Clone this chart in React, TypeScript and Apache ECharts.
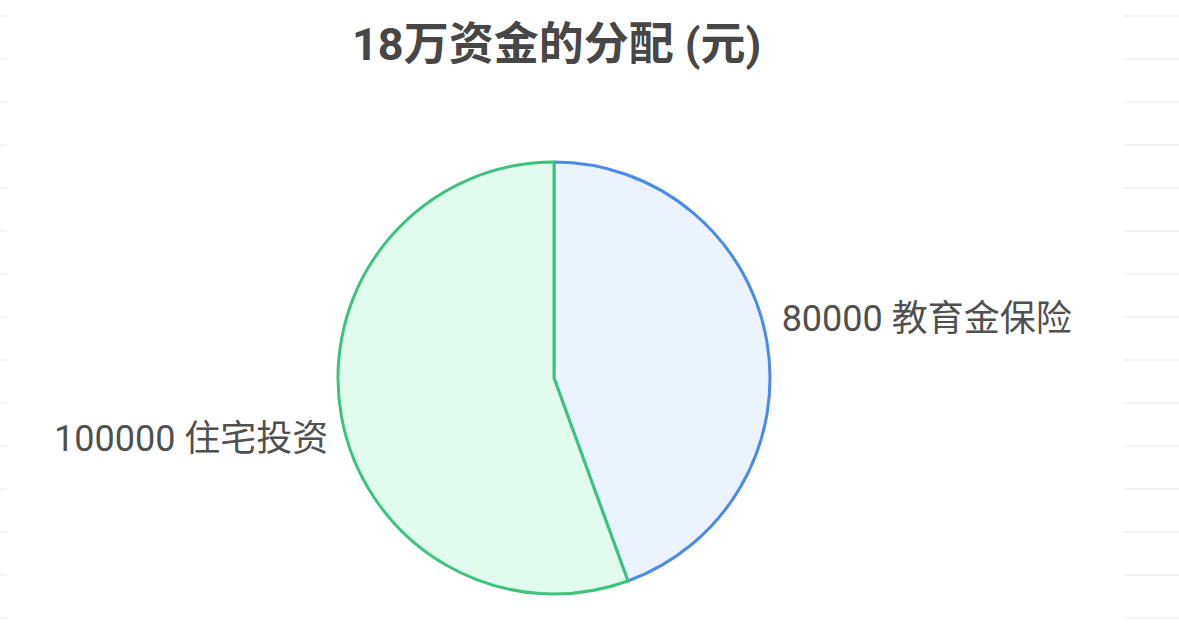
import React, { useEffect, useRef } from "react";
import * as echarts from "echarts";

const titleText = "18万资金的分配 (元)";
const categories = ["教育金保险", "住宅投资"];
const values = [80000, 100000];
const fillColors = ["#ebf3fe", "#e1fcef"];
const borderColors = ["#4b8be8", "#3cc47e"];
const stripeRows = [16, 59, 102, 145, 188, 231, 274, 317, 360, 403, 446, 489, 532, 575, 618];

export default function App() {
  const ref = useRef<HTMLDivElement>(null);
  useEffect(() => {
    if (!ref.current) return;
    const chart = echarts.init(ref.current, null, { renderer: "svg" });
    const stripes: any[] = [];
    stripeRows.forEach((y) => {
      stripes.push({
        type: "line",
        shape: { x1: 0, y1: y, x2: 7, y2: y },
        style: { stroke: "#f0f0f0", lineWidth: 1.5 },
        silent: true,
      });
      stripes.push({
        type: "line",
        shape: { x1: 1124, y1: y, x2: 1179, y2: y },
        style: { stroke: "#f0f0f0", lineWidth: 1.5 },
        silent: true,
      });
    });
    chart.setOption({
      animation: false,
      backgroundColor: "#ffffff",
      title: {
        text: titleText,
        left: 347,
        top: 17,
        textStyle: {
          fontSize: 45,
          fontWeight: "bold",
          color: "#474747",
          fontFamily: 'Roboto, "Noto Sans CJK SC", sans-serif',
        },
      },
      graphic: stripes,
      series: [
        {
          type: "pie",
          center: [554, 378],
          radius: 216,
          startAngle: 90,
          clockwise: true,
          label: {
            show: true,
            position: "outside",
            formatter: (p: any) => `${p.value} ${p.name}`,
            fontSize: 36,
            color: "#505050",
            fontFamily: 'Roboto, "Noto Sans CJK SC", sans-serif',
            distanceToLabelLine: 5,
          },
          labelLine: { show: false, length: 6, length2: 6 },
          labelLayout: (params: any) =>
            params.dataIndex === 0 ? { dx: -2, dy: -20 } : { dx: 4, dy: 22 },
          emphasis: { disabled: true },
          data: categories.map((name, i) => ({
            name,
            value: values[i],
            itemStyle: {
              color: fillColors[i],
              borderColor: borderColors[i],
              borderWidth: 3,
            },
          })),
        },
      ],
    });
    return () => chart.dispose();
  }, []);
  return (
    <div
      ref={ref}
      style={{ position: "absolute", left: 0, top: 0, width: 1179, height: 631 }}
    />
  );
}
